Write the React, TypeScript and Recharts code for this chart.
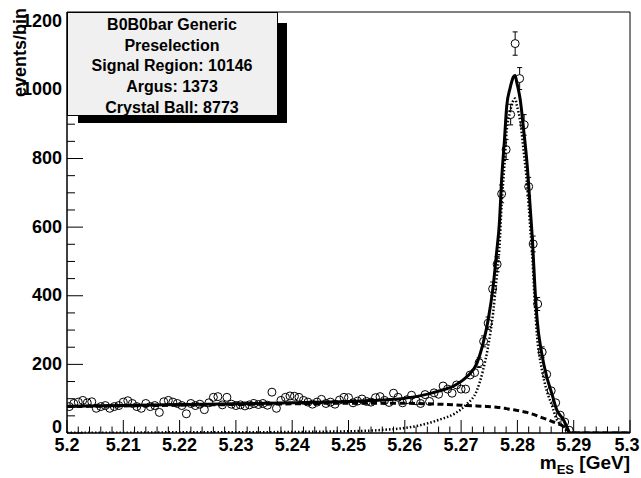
import { ComposedChart, Line, ReferenceArea, Scatter, XAxis, YAxis } from "recharts";

// histogram binning of m_ES
const BIN_LOW = 5.2;
const BIN_WIDTH = 0.0008;

// events per bin (bins 0..111, empty above 5.29)
const counts = [
  77, 86, 90, 95, 88, 91, 72, 77, 80, 72,
  77, 80, 90, 94, 86, 77, 72, 86, 77, 80,
  60, 91, 95, 90, 86, 80, 56, 86, 80, 84,
  68, 88, 104, 106, 82, 104, 84, 80, 82, 79,
  82, 86, 83, 86, 81, 119, 72, 95, 104, 108,
  107, 104, 95, 90, 84, 90, 98, 86, 90, 84,
  96, 104, 103, 88, 93, 99, 92, 90, 103, 106,
  95, 89, 116, 104, 88, 97, 110, 94, 86, 112,
  92, 117, 113, 137, 128, 116, 140, 128, 128, 169,
  176, 205, 267, 320, 420, 492, 697, 826, 928, 1135,
  1033, 898, 718, 551, 376, 236, 171, 123, 88, 52,
  32, 8
];

const countErrors = [
  9, 9, 9, 10, 9, 10, 8, 9, 9, 8,
  9, 9, 9, 10, 9, 9, 8, 9, 9, 9,
  8, 10, 10, 9, 9, 9, 7, 9, 9, 9,
  8, 9, 10, 10, 9, 10, 9, 9, 9, 9,
  9, 9, 9, 9, 9, 11, 8, 10, 10, 10,
  10, 10, 10, 9, 9, 9, 10, 9, 9, 9,
  10, 10, 10, 9, 10, 10, 10, 9, 10, 10,
  10, 9, 11, 10, 9, 10, 10, 10, 9, 11,
  10, 11, 11, 12, 11, 11, 12, 11, 11, 13,
  13, 14, 16, 18, 20, 22, 26, 29, 30, 34,
  32, 30, 27, 23, 19, 15, 13, 11, 9, 7,
  6, 3
];

// fit curves sampled along m_ES
const curveX = [
  5.2, 5.21, 5.22, 5.23, 5.24, 5.25, 5.256, 5.262, 5.266, 5.269,
  5.271, 5.2728, 5.2739, 5.2748, 5.2757, 5.2763, 5.2768, 5.2772, 5.2777, 5.2781,
  5.2787, 5.2793, 5.2796, 5.2799, 5.2805, 5.2811, 5.2817, 5.2823, 5.2827, 5.2831,
  5.2835, 5.2843, 5.2852, 5.2861, 5.287, 5.2882, 5.289, 5.2893, 5.3
];
const totalFit = [
  78, 80, 83, 85, 88, 92, 96, 106, 122, 140,
  164, 203, 261, 329, 428, 525, 612, 739, 854, 952,
  1005, 1038, 1042, 1021, 972, 885, 788, 651, 554, 428,
  331, 234, 164, 116, 67, 38, 10, 0, 0
];
const argusFit = [
  77, 79, 81, 83, 85, 87, 87, 86, 84, 82,
  80, 79, 78, 77, 76, 75, 74, 73, 72, 71,
  69, 68, 67, 66, 64, 62, 60, 57, 55, 53,
  50, 45, 40, 34, 28, 19, 7, 0, 0
];
const crystalBallFit = [
  1, 1, 2, 2, 3, 5, 9, 20, 38, 58,
  84, 124, 183, 252, 352, 450, 538, 666, 782, 881,
  936, 970, 975, 955, 908, 823, 728, 594, 499, 375,
  281, 189, 124, 82, 39, 19, 3, 0, 0
];

const legendLines = ["B0B0bar Generic", "Preselection", "Signal Region: 10146", "Argus: 1373", "Crystal Ball: 8773"];

const FONT = "'Liberation Sans', Arial, Helvetica, sans-serif";
const WIDTH = 641;
const HEIGHT = 478;
const MARGIN = { top: 12, right: 11, bottom: 0, left: 7 };
const X_AXIS_H = 45;
const Y_TOP = 1227;
const PX_PER_EVENT = (HEIGHT - MARGIN.top - MARGIN.bottom - X_AXIS_H) / Y_TOP;
const MARKER_R = 4;

const xTicks = Array.from({ length: 51 }, (_, k) => Number((5.2 + k * 0.002).toFixed(3)));
const yTicks = Array.from({ length: 25 }, (_, k) => k * 50);

const points = counts.map((n, i) => ({ x: BIN_LOW + (i + 0.5) * BIN_WIDTH, n, err: countErrors[i] }));
const curves = curveX.map((x, i) => ({ x, total: totalFit[i], argus: argusFit[i], cb: crystalBallFit[i] }));

function XTick(props: any) {
  const { x, y, payload } = props;
  const v: number = payload.value;
  const major = Math.round(v * 1000) % 10 === 0;
  // keep the last label inside the page
  const lx = Math.min(x, WIDTH - 14);
  return (
    <g>
      <line x1={x} x2={x} y1={y} y2={y - (major ? 13 : 6.5)} stroke="#000" />
      {major && (
        <text x={lx} y={y + 18} textAnchor="middle" fontSize={18} fontWeight="bold" fontFamily={FONT} fill="#000">
          {String(Number(v.toFixed(2)))}
        </text>
      )}
    </g>
  );
}

function YTick(props: any) {
  const { x, y, payload } = props;
  const v: number = payload.value;
  const major = v % 200 === 0;
  // the label at the origin sits a little higher, clear of the x labels
  const dy = v === 0 ? 0 : 5.5;
  return (
    <g>
      <line x1={x} x2={x + (major ? 16 : 8)} y1={y} y2={y} stroke="#000" />
      {major && (
        <text x={x - 5} y={y + dy} textAnchor="end" fontSize={18} fontWeight="bold" fontFamily={FONT} fill="#000">
          {v}
        </text>
      )}
    </g>
  );
}

// ROOT style open circle; the error bar is only drawn outside the marker
function DataPoint(props: any) {
  const { cx, cy, payload } = props;
  const e = payload.err * PX_PER_EVENT;
  const r = MARKER_R;
  return (
    <g stroke="#000" strokeWidth={1} fill="none">
      {e > r + 0.5 && (
        <>
          <line x1={cx} x2={cx} y1={cy - e} y2={cy - r} />
          <line x1={cx} x2={cx} y1={cy + r} y2={cy + e} />
          <line x1={cx - 2.5} x2={cx + 2.5} y1={cy - e} y2={cy - e} />
          <line x1={cx - 2.5} x2={cx + 2.5} y1={cy + e} y2={cy + e} />
        </>
      )}
      <circle cx={cx} cy={cy} r={r} />
    </g>
  );
}

export default function App() {
  return (
    <div style={{ position: "absolute", left: 0, top: 0, width: WIDTH, height: HEIGHT, background: "#fff" }}>
      <ComposedChart width={WIDTH} height={HEIGHT} data={curves} margin={MARGIN}>
        <XAxis
          dataKey="x"
          type="number"
          domain={[5.2, 5.3]}
          allowDataOverflow
          ticks={xTicks}
          interval={0}
          tickSize={0}
          tickMargin={0}
          tickLine={false}
          tick={XTick}
          axisLine={{ stroke: "#000" }}
          height={X_AXIS_H}
        />
        <YAxis
          type="number"
          domain={[0, Y_TOP]}
          allowDataOverflow
          ticks={yTicks}
          interval={0}
          tickSize={0}
          tickMargin={0}
          tickLine={false}
          tick={YTick}
          axisLine={{ stroke: "#000" }}
          width={60}
        />
        <ReferenceArea x1={5.2} x2={5.3} y1={0} y2={Y_TOP} fill="none" stroke="#000" strokeWidth={1} ifOverflow="visible" />
        <Scatter data={points} dataKey="n" isAnimationActive={false} shape={DataPoint} />
        <Line type="monotone" dataKey="cb" stroke="#000" strokeWidth={2.5} strokeDasharray="1.5 2" dot={false} activeDot={false} isAnimationActive={false} />
        <Line type="monotone" dataKey="argus" stroke="#000" strokeWidth={3} strokeDasharray="6 3.5" dot={false} activeDot={false} isAnimationActive={false} />
        <Line type="monotone" dataKey="total" stroke="#000" strokeWidth={3} dot={false} activeDot={false} isAnimationActive={false} />
      </ComposedChart>
      <svg width={WIDTH} height={HEIGHT} style={{ position: "absolute", left: 0, top: 0, pointerEvents: "none" }}>
        <rect x={78} y={23} width={209} height={100} fill="#000" />
        <rect x={67.5} y={12.5} width={210} height={103} fill="#f0f0f0" stroke="#000" />
        {legendLines.map((t, i) => (
          <text key={t} x={172} y={30 + i * 20.7} textAnchor="middle" fontSize={16} fontWeight="bold" fontFamily={FONT} fill="#000">
            {t}
          </text>
        ))}
        <text transform="translate(26 8) rotate(-90)" textAnchor="end" fontSize={18} fontWeight="bold" fontFamily={FONT} fill="#000">
          events/bin
        </text>
        <text x={630} y={469} textAnchor="end" fontSize={19} fontWeight="bold" fontFamily={FONT} fill="#000">
          <tspan>m</tspan>
          <tspan fontSize={13} dy={5}>ES</tspan>
          <tspan dy={-5}> [GeV]</tspan>
        </text>
      </svg>
    </div>
  );
}
